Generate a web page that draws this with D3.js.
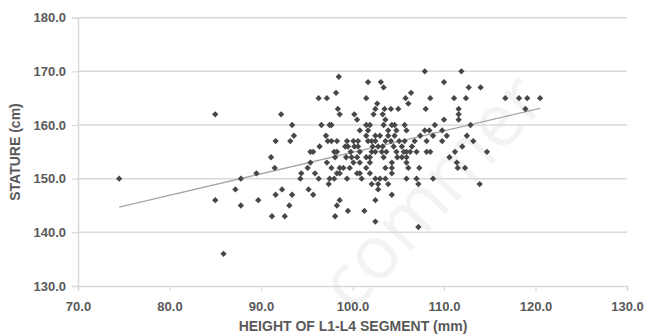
<!DOCTYPE html>
<html><head><meta charset="utf-8">
<script src="https://cdn.jsdelivr.net/npm/d3@7"></script>
<style>body{margin:0;background:#fff}</style>
</head><body><svg id="c" width="645" height="336"></svg>
<script>
// Data: stature (cm) level -> list of L1-L4 heights (mm)
const statureLevels = [170,169,168,167,166,165,164,163,162,161,160,159,158,157,156,155,154,153,152,151,150,149,148,147,146,145,144,143,142,141,136];
const heightsByLevel = [
  [107.9,111.9],
  [98.5],
  [101.7,103.1,110.0],
  [103.4,112.7,114.0],
  [98.2,106.4],
  [96.3,97.2,101.5,105.8,108.5,111.1,112.4,116.7,118.2,119.1,120.5],
  [102.7,106.1],
  [98.4,102.5,103.5,104.2,105.0,108.0,111.6,118.9],
  [85.0,92.2,98.6,100.2,102.3,103.3,111.6],
  [100.5,103.6,110.0,111.6],
  [93.4,96.6,97.5,97.7,101.5,101.9,103.4,104.3,104.6,105.7,109.0,112.9],
  [100.8,101.7,103.9,104.8,105.9,107.9,108.4,109.8],
  [93.6,97.1,101.5,102.5,103.0,103.9,104.6,107.4,108.8,110.3,112.5],
  [91.6,93.2,97.3,97.7,98.3,99.4,100.1,100.6,101.7,102.1,102.5,103.6,104.2,105.1,105.7,106.8,108.1,109.8,113.2],
  [96.4,99.2,99.5,100.2,100.6,102.2,102.8,103.3,104.5,105.4,106.5,112.0],
  [95.4,95.7,98.0,98.3,99.8,100.8,102.1,102.5,103.2,103.7,104.8,105.6,105.9,106.3,107.0,108.1,108.5,111.2,114.7],
  [91.1,98.1,99.3,99.9,100.5,101.5,101.9,103.4,104.9,105.4,105.9,110.6],
  [95.4,97.2,100.1,100.8,101.9,104.3,105.9,111.4],
  [91.5,95.1,97.7,98.6,99.0,99.7,101.5,103.6,104.3,106.1,107.3,111.5,112.3],
  [89.5,94.4,95.9,98.3,98.6,100.5,100.8,101.9,104.3],
  [74.5,87.8,94.3,96.3,97.5,98.0,99.4,101.0,102.5,103.0,103.6,105.9,107.0,108.8],
  [97.4,102.1,102.8,103.9,107.2,113.9],
  [87.2,92.3,95.2,102.8],
  [91.6,93.4,95.7,104.3],
  [85.0,89.7,98.6,102.5],
  [87.8,93.1,98.3],
  [99.5,101.3],
  [91.2,92.6,98.1],
  [102.5],
  [107.2],
  [85.9]
];
// Linear trend line end points
const trendX = [74.5, 120.5];
const trendY = [144.7, 163.1];
const xTicks = [70,80,90,100,110,120,130];
const yTicks = [130,140,150,160,170,180];
const xTitle = "HEIGHT OF L1-L4 SEGMENT (mm)";
const yTitle = "STATURE (cm)";

const points = [];
statureLevels.forEach((s,i)=>heightsByLevel[i].forEach(h=>points.push({x:h,y:s})));

const svg = d3.select("#c");
const L=78, R=627, T=17.7, B=286;
const x = d3.scaleLinear().domain([70,130]).range([L,R]);
const y = d3.scaleLinear().domain([130,180]).range([B,T]);

// faint watermark
svg.append("text").attr("transform","translate(352,314) rotate(-47)")
  .attr("font-family","Open Sans, sans-serif").attr("font-size",74)
  .attr("fill","#f3f3f3").text("commer");

// gridlines
svg.append("g").selectAll("line").data(yTicks.filter(d=>d>130)).join("line")
  .attr("x1",L).attr("x2",R).attr("y1",d=>y(d)).attr("y2",d=>y(d))
  .attr("stroke","#d9d9d9").attr("stroke-width",1.5);

const font = "'Liberation Sans', Arial, sans-serif";
const yAxis = svg.append("g").attr("transform",`translate(${L},0)`)
  .call(d3.axisLeft(y).tickValues(yTicks).tickFormat(d3.format(".1f")).tickSize(6).tickPadding(6));
const xAxis = svg.append("g").attr("transform",`translate(0,${B})`)
  .call(d3.axisBottom(x).tickValues(xTicks).tickFormat(d3.format(".1f")).tickSize(5).tickPadding(11));
[yAxis,xAxis].forEach(g=>{
  g.select(".domain").attr("stroke","#d9d9d9").attr("stroke-width",1.5);
  g.selectAll(".tick line").attr("stroke","#d9d9d9").attr("stroke-width",1.2);
  g.selectAll("text").attr("fill","#595959").attr("font-family",font)
   .attr("font-size",13).attr("font-weight","bold");
});

// trend line
svg.append("path").datum(trendX.map((v,i)=>[v,trendY[i]]))
  .attr("d",d3.line().x(d=>x(d[0])).y(d=>y(d[1])))
  .attr("stroke","#a6a6a6").attr("stroke-width",1.3).attr("fill","none");

// points (diamond markers)
svg.append("g").selectAll("path").data(points).join("path")
  .attr("transform",d=>`translate(${x(d.x)},${y(d.y)}) rotate(45)`)
  .attr("d",d3.symbol(d3.symbolSquare,20))
  .attr("fill","#474747");

// titles
svg.append("text").attr("x",353).attr("y",331).attr("text-anchor","middle")
  .attr("font-family",font).attr("font-size",14).attr("font-weight","bold")
  .attr("fill","#595959").text(xTitle);
svg.append("text").attr("transform","translate(20,152) rotate(-90)").attr("text-anchor","middle")
  .attr("font-family",font).attr("font-size",14).attr("font-weight","bold")
  .attr("fill","#595959").text(yTitle);
</script></body></html>
